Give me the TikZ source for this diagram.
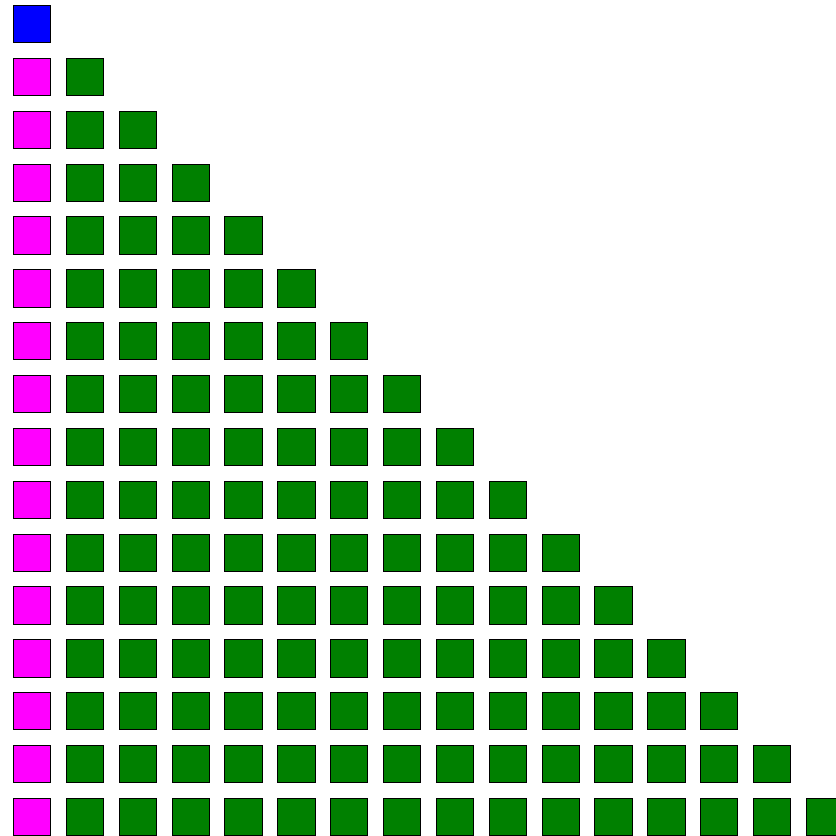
\documentclass[tikz,border=0pt]{standalone}
\definecolor{cgreen}{RGB}{0,128,0}
\definecolor{cmag}{RGB}{255,0,255}
\definecolor{cblue}{RGB}{0,0,255}
\tikzset{
  sq/.style={draw=black, line width=0.7pt, minimum size=37.3pt, inner sep=0pt, outer sep=0pt},
  topsq/.style={sq, fill=cblue},
  leftsq/.style={sq, fill=cmag},
  cellsq/.style={sq, fill=cgreen}
}
\begin{document}
\begin{tikzpicture}[x=1pt,y=1pt]
\useasboundingbox (0,0) rectangle (836,836);
\clip (0,0) rectangle (836,836);
\node[topsq] (s-0-0) at (32,812) {};
\foreach \r in {1,...,15}{
  \node[leftsq] (s-\r-0) at (32,{812-\r*52.86}) {};
  \foreach \c in {1,...,\r}{
    \node[cellsq] (s-\r-\c) at ({32+\c*52.86},{812-\r*52.86}) {};
  }
}
\end{tikzpicture}
\end{document}
